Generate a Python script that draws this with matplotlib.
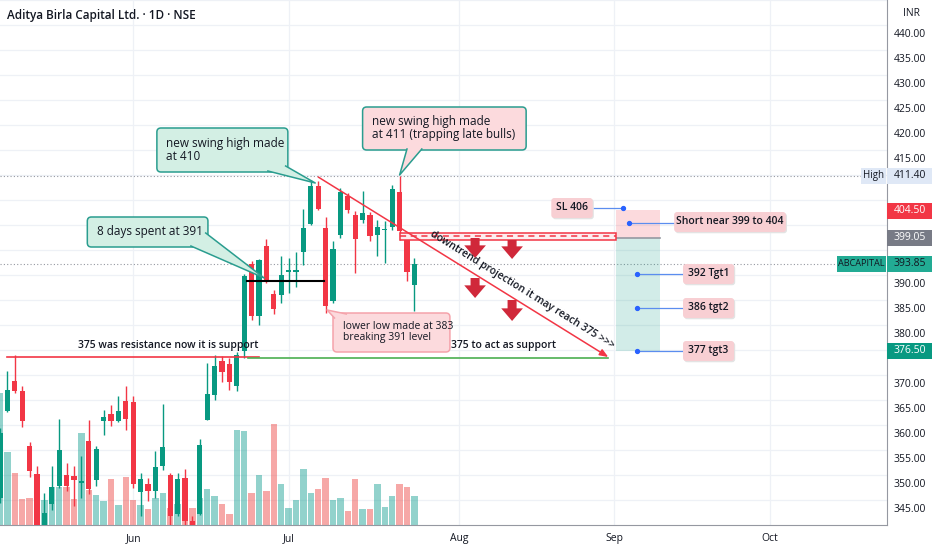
import numpy as np
import matplotlib.pyplot as plt
from matplotlib.patches import FancyBboxPatch, Polygon, Rectangle
from matplotlib.transforms import blended_transform_factory

plt.rcParams['font.family'] = ['Open Sans', 'DejaVu Sans']

# daily candles (bar index 0 = first visible session)
opens = [347, 364.5, 370.4, 368.5, 357.5, 351.9, 341.5, 345.8, 349.3, 351.7,
         351.4, 350, 358.4, 350.6, 362.5, 363.8, 362.5, 366.4, 366.1, 348.1,
         349.8, 348.3, 353.3, 351.6, 343.9, 350.9, 342.3, 343.9, 362.7, 367.6,
         374.3, 373.9, 369.5, 376.5, 393.9, 383.3, 397.3, 387.8, 387.5, 392.2,
         392.1, 396.1, 401.8, 409.4, 401.0, 386.4, 399.6, 407.3, 403.6, 402.6,
         403.6, 399.6, 400.6, 401.1, 408.1, 399.6, 389.6]
highs = [361, 372.3, 375.6, 369.4, 358.1, 353.4, 348, 353.4, 362.8, 353.9,
         353.4, 355.3, 362.6, 357.3, 364.5, 365.6, 367.4, 369.4, 367.3, 351.9,
         350.9, 356.3, 365.8, 351.9, 351.9, 352.7, 343.3, 358.7, 373.9, 375.6,
         375.3, 374.9, 376.2, 391.8, 394.3, 394.8, 398.7, 388.6, 395.3, 394.9,
         396.1, 404.7, 410.6, 410.3, 403.1, 398.3, 409.0, 408.0, 404.3, 408.3,
         404.2, 402.6, 402.4, 409.5, 411.4, 399.9, 394.9]
lows = [346, 364.2, 367.9, 361.1, 351.1, 340.5, 340.8, 344.6, 349, 348.3,
        345.3, 347, 347.8, 349.3, 359.5, 361.4, 362.1, 360.5, 348.9, 343.4,
        346.3, 346.9, 352.6, 341.3, 343.3, 341.3, 341.6, 343.6, 362.5, 366.6,
        370.1, 368.6, 368.3, 375.0, 382.5, 381.6, 389.9, 383.8, 385.9, 387.9,
        389.1, 393.6, 401.5, 404.5, 384.0, 386.0, 399.0, 404.0, 391.9, 402.0,
        398.3, 395.4, 393.9, 400.5, 398.6, 390.3, 384.3]
closes = [360, 368.7, 368.5, 362.5, 352.5, 341.5, 344, 349.1, 356.6, 349.5,
          350.6, 350.3, 348.8, 356.8, 363.1, 362.5, 364.5, 362.8, 349.9, 350.9,
          348.3, 353.1, 357.1, 343.4, 350.9, 342.3, 341.7, 357.6, 367.8, 373.4,
          372.1, 370.1, 375.6, 391.5, 383.4, 394.5, 390.6, 384.9, 391.5, 392.7,
          392.6, 401.0, 409.4, 404.9, 385.4, 396.9, 408.1, 404.6, 398.9, 404.0,
          399.4, 401.1, 400.8, 408.7, 400.3, 392.1, 393.85]
volume = [132, 73, 52, 26, 27, 40, 25, 38, 38, 38, 26, 92, 35, 30, 24, 46, 20, 48, 25,
          20, 16, 27, 32, 17, 21, 17, 17, 27, 36, 29, 21, 11, 95, 94, 32, 50, 34,
          101, 41, 17, 25, 56, 32, 36, 47, 25, 27, 14, 46, 16, 16, 41, 18, 29, 41, 38, 29]

month_pos = [18, 39, 62, 83, 104]
month_labels = ['Jun', 'Jul', 'Aug', 'Sep', 'Oct']
price_ticks = np.arange(345, 441, 5)
hidden_ticks = [375, 395, 400, 405, 410]   # covered by the price tags

last_price = 393.85
high_price = 411.4
entry, stop, target = 399.05, 404.5, 376.5

UP, DOWN = '#089981', '#f23645'
TXT = '#131722'
GRID = '#eef1f6'

n = len(opens)
idx = np.arange(n)
o, h, l, c = map(np.array, (opens, highs, lows, closes))
up = c >= o
col = np.where(up, UP, DOWN)

fig = plt.figure(figsize=(9.32, 5.5), dpi=100)
rect = [0, 25 / 550, 887 / 932, 525 / 550]
vax = fig.add_axes(rect)
ax = fig.add_axes(rect)
ax.patch.set_alpha(0)
xmin, xmax = 0, 887 / 7.4
ax.set_xlim(xmin, xmax)
ax.set_ylim(341.6, 446.6)

# volume pane (behind the candles)
vax.set_xlim(xmin, xmax)
vax.set_ylim(0, 525)
vax.bar(idx, volume, width=0.88, color=np.where(up, '#26a69a', '#ef5350'), alpha=0.5, zorder=2)
vax.set_xticks(month_pos)
vax.set_yticks(np.linspace(0, 525, 22)[1:])
vax.grid(True, color=GRID, lw=0.9, zorder=0)
vax.tick_params(left=False, bottom=False, labelleft=False, labelbottom=False)
for s in vax.spines.values():
    s.set_visible(False)

# candles
ax.vlines(idx, l, h, color=col, lw=1, zorder=4)
body = np.maximum(np.abs(c - o), 0.2)
ax.bar(idx, body, bottom=np.minimum(o, c), width=0.72, color=col, zorder=5)

# axes styling
ax.yaxis.tick_right()
ax.set_yticks(price_ticks)
ax.set_yticklabels(['' if v in hidden_ticks else f'{v:.2f}' for v in price_ticks])
ax.set_xticks(month_pos)
ax.set_xticklabels(month_labels)
ax.tick_params(axis='y', length=0, pad=5, labelsize=7.5, labelcolor=TXT)
ax.tick_params(axis='x', length=0, pad=6, labelsize=7.5, labelcolor=TXT)
for side in ['top', 'left']:
    ax.spines[side].set_visible(False)
ax.spines['right'].set_color('#9598a1')
ax.spines['bottom'].set_color('#9598a1')

fig.text(7 / 932, 1 - 15 / 550, 'Aditya Birla Capital Ltd. · 1D · NSE', fontsize=8.5,
         fontweight='semibold', color=TXT, va='center')
fig.text(903 / 932, 1 - 14 / 550, 'INR', fontsize=7.5, color=TXT, va='center')

# dotted reference lines
ax.axhline(high_price, xmax=862 / 887, color='#9598a1', lw=0.8, ls=(0, (1, 2)), zorder=3)
ax.axhline(last_price, xmax=838 / 887, color='#9598a1', lw=0.8, ls=(0, (1, 2)), zorder=3)

# support / resistance lines
ax.plot([1, 35], [375.2, 375.2], color=DOWN, lw=1.2, zorder=6)
ax.plot([33.5, 82.2], [375.0, 375.0], color='#4caf50', lw=1.2, zorder=6)
ax.text(22.7, 376.3, '375 was resistance now it is support', fontsize=7.5, fontweight='semibold',
        color=TXT, ha='center', va='bottom', zorder=8)
ax.text(68.1, 376.3, '375 to act as support', fontsize=7.5, fontweight='semibold',
        color=TXT, ha='center', va='bottom', zorder=8)
ax.plot([33.4, 43.8], [390.4, 390.4], color='black', lw=1.5, zorder=6)

# resistance band
ax.add_patch(Rectangle((54, 398.7), 83.2 - 54, 1.4, fc='#fdeef0', ec=DOWN, lw=1.1, zorder=6))
ax.plot([54, 83.2], [399.4, 399.4], color=DOWN, lw=1.1, ls=(0, (4, 3)), zorder=6)

# projected downtrend
ax.annotate('', xy=(82.2, 375.2), xytext=(43, 411.2),
            arrowprops=dict(arrowstyle='-|>,head_length=0.5,head_width=0.2', color=DOWN, lw=1.1,
                            shrinkA=0, shrinkB=0), zorder=7)
p1 = ax.transData.transform((43, 411.2))
p2 = ax.transData.transform((82.2, 375.2))
ang = np.degrees(np.arctan2(p2[1] - p1[1], p2[0] - p1[0]))
ax.text(70.6, 388.6, 'downtrend projection it may reach 375 >>>', fontsize=7.5, fontweight='semibold',
        color=TXT, rotation=ang, rotation_mode='anchor', ha='center', va='center', zorder=8)

# red down arrows
for ax_x, top, tip in [(64.2, 399.0, 395.0), (69.2, 398.6, 394.8), (64.2, 391.0, 387.0), (69.2, 386.6, 382.4)]:
    ax.annotate('', xy=(ax_x, tip), xytext=(ax_x, top),
                arrowprops=dict(arrowstyle='simple,head_length=0.7,head_width=1.2,tail_width=0.5',
                                fc='#d0283a', ec='none', mutation_scale=13, shrinkA=0, shrinkB=0),
                zorder=7)

# short position tool
ax.add_patch(Rectangle((83.2, entry), 6, stop - entry, fc='#f23645', alpha=0.18, ec='none', zorder=3))
ax.add_patch(Rectangle((83.2, target), 6, entry - target, fc='#089981', alpha=0.18, ec='none', zorder=3))
ax.plot([83.2, 89.2], [entry, entry], color='#9598a1', lw=1.2, zorder=4)

ASP = (1 / 5) / (1 / 7.4)


def box(x0, x1, p0, p1, fc, ec='none', lw=1.0, z=8, r=0.55):
    ax.add_patch(FancyBboxPatch((x0, p0), x1 - x0, p1 - p0, boxstyle=f'round,pad=0,rounding_size={r}',
                                mutation_aspect=ASP, fc=fc, ec=ec, lw=lw, zorder=z))


def callout(x0, x1, p0, p1, text, fc, ec, b1, b2, tip, fs=8):
    box(x0, x1, p0, p1, fc, ec, lw=1.1)
    ax.add_patch(Polygon([b1, tip, b2], closed=True, fc=fc, ec='none', zorder=8.5))
    ax.plot([b1[0], tip[0], b2[0]], [b1[1], tip[1], b2[1]], color=ec, lw=1.1, zorder=8.6)
    ax.text(x0 + 1.3, (p0 + p1) / 2, text, fontsize=fs, color=TXT, ha='left', va='center',
            linespacing=1.0, zorder=9)


GFC, GEC = '#d3efe4', '#2a9d8f'
PFC = '#fcdadd'
callout(11.8, 28.1, 397.2, 403.2, '8 days spent at 391', GFC, GEC,
        (27.8, 400.0), (25.8, 397.4), (35.7, 391.0), fs=8.5)
callout(21.2, 38.9, 412.2, 421.0, 'new swing high made\nat 410', GFC, GEC,
        (38.6, 413.4), (36.2, 412.4), (42.6, 410.0), fs=8.5)
callout(49.0, 71.1, 416.6, 425.2, 'new swing high made\nat 411 (trapping late bulls)', PFC, GEC,
        (55.0, 416.8), (57.0, 416.8), (54.0, 411.6), fs=8.5)
callout(45.0, 60.8, 376.2, 384.0, 'lower low made at 383\nbreaking 391 level', PFC, '#f5a3ab',
        (45.2, 383.0), (46.8, 383.8), (44.2, 384.6), fs=7.5)

# position labels
LFC = '#f8cfd3'
BLUE = '#2962ff'
labels = [
    ('SL 406', 74.5, 80.1, 403.0, 407.0, 84.2, 405.06, 80.1),
    ('Short near 399 to 404', 91.1, 106.2, 400.2, 404.2, 85.0, 402.06, 91.1),
    ('392 Tgt1', 92.3, 99.2, 389.8, 393.8, 86.1, 391.8, 92.3),
    ('386 tgt2', 92.3, 99.2, 383.0, 387.0, 86.1, 385.0, 92.3),
    ('377 tgt3', 92.3, 99.2, 374.4, 378.4, 86.1, 376.46, 92.3),
]
for text, x0, x1, p0, p1, dx, dp, lx in labels:
    box(x0 + 0.15, x1 + 0.15, p0 - 0.25, p1 - 0.25, '#e3e3e3', z=7.5, r=0.4)
    box(x0, x1, p0, p1, LFC, z=8, r=0.4)
    ax.text((x0 + x1) / 2, (p0 + p1) / 2, text, fontsize=7.5, fontweight='semibold', color=TXT,
            ha='center', va='center', zorder=9)
    ax.plot([dx, lx], [dp, dp], color='#5b8def', lw=0.9, zorder=7)
    ax.plot([dx], [dp], 'o', color=BLUE, ms=2.8, zorder=7)

# price scale tags
tr = blended_transform_factory(ax.transAxes, ax.transData)
W = 45 / 887


def tag(price, text, fc, tc, x0=1.0, w=W, hh=1.6, fs=7.5):
    ax.add_patch(Rectangle((x0, price - hh), w, 2 * hh, transform=tr, fc=fc, ec='none',
                           clip_on=False, zorder=10))
    ax.text(x0 + w / 2, price, text, transform=tr, fontsize=fs, color=tc, ha='center', va='center',
            clip_on=False, zorder=11)


tag(high_price, f'{high_price:.2f}', '#dfe8f6', TXT)
tag(high_price, 'High', '#dfe8f6', TXT, x0=861 / 887, w=25 / 887, fs=7)
tag(stop, f'{stop:.2f}', DOWN, 'white')
tag(entry, f'{entry:.2f}', '#787b86', 'white')
tag(last_price, f'{last_price:.2f}', '#22ab94', TXT)
tag(last_price, 'ABCAPITAL', '#22ab94', TXT, x0=837 / 887, w=49 / 887, fs=6.6)
tag(target, f'{target:.2f}', UP, 'white')

fig.savefig('out.png', dpi=100, facecolor='white')
